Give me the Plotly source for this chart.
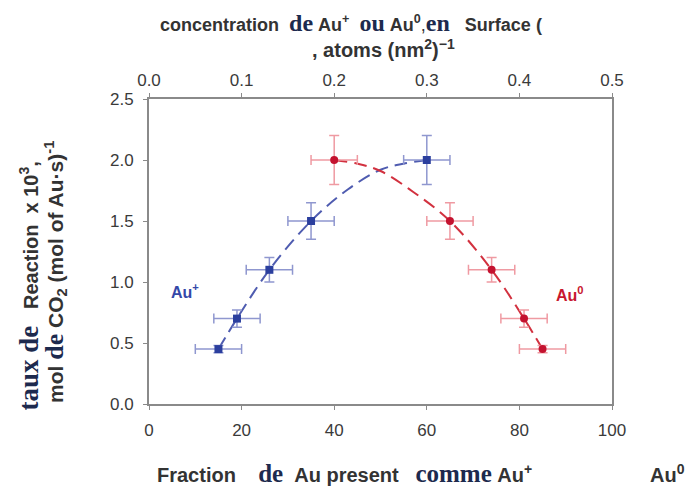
import plotly.graph_objects as go

# ---- data ----
au_plus_x = [15, 19, 26, 35, 60]
au_plus_y = [0.45, 0.70, 1.10, 1.50, 2.00]
au_plus_yerr = [0.03, 0.07, 0.10, 0.15, 0.20]
au_plus_xerr = [5, 5, 5, 5, 5]

au_zero_x = [40, 65, 74, 81, 85]
au_zero_y = [2.00, 1.50, 1.10, 0.70, 0.45]
au_zero_yerr = [0.20, 0.15, 0.10, 0.07, 0.03]
au_zero_xerr = [5, 5, 5, 5, 5]

# dashed guide curves
curve_plus_x = [15, 19, 26, 35, 43, 50, 55, 60]
curve_plus_y = [0.45, 0.70, 1.10, 1.50, 1.76, 1.92, 1.97, 2.00]
curve_zero_x = [40, 45, 50, 57, 65, 74, 81, 85]
curve_zero_y = [2.00, 1.97, 1.91, 1.74, 1.50, 1.10, 0.70, 0.45]

x_ticks = [0, 20, 40, 60, 80, 100]
y_ticks = [0.0, 0.5, 1.0, 1.5, 2.0, 2.5]
top_ticks = [0.0, 0.1, 0.2, 0.3, 0.4, 0.5]

W, H = 687, 488
L, R, T, B = 149, 612, 99, 404

BLUE = "#2b3f9e"
BLUE_LIGHT = "#8f97cf"
BLUE_LINE = "#4f5cb0"
RED = "#c4122f"
RED_LIGHT = "#ef9aa2"
RED_LINE = "#d2313f"
SANS = "Liberation Sans"
N = "&nbsp;"

fig = go.Figure()

fig.add_trace(go.Scatter(x=curve_plus_x, y=curve_plus_y, mode="lines",
                         line=dict(color=BLUE_LINE, width=2, dash="13px,7px", shape="spline"),
                         hoverinfo="skip", showlegend=False))
fig.add_trace(go.Scatter(x=curve_zero_x, y=curve_zero_y, mode="lines",
                         line=dict(color=RED_LINE, width=2, dash="13px,7px", shape="spline"),
                         hoverinfo="skip", showlegend=False))

fig.add_trace(go.Scatter(
    x=au_plus_x, y=au_plus_y, mode="markers",
    marker=dict(symbol="square", size=8, color=BLUE),
    error_y=dict(type="data", array=au_plus_yerr, color=BLUE_LIGHT, thickness=1.5, width=5),
    error_x=dict(type="data", array=au_plus_xerr, color=BLUE_LIGHT, thickness=1.5, width=5),
    showlegend=False))
fig.add_trace(go.Scatter(
    x=au_zero_x, y=au_zero_y, mode="markers",
    marker=dict(symbol="circle", size=8, color=RED),
    error_y=dict(type="data", array=au_zero_yerr, color=RED_LIGHT, thickness=1.5, width=5),
    error_x=dict(type="data", array=au_zero_xerr, color=RED_LIGHT, thickness=1.5, width=5),
    showlegend=False))

# invisible trace for top axis
fig.add_trace(go.Scatter(x=top_ticks, y=[None] * len(top_ticks), xaxis="x2",
                         mode="markers", showlegend=False, hoverinfo="skip"))

axis_common = dict(showline=True, linecolor="#8a8a8a", linewidth=2, ticks="outside",
                   ticklen=4, tickcolor="#8a8a8a", showgrid=False, zeroline=False,
                   tickfont=dict(family=SANS, size=17, color="#3a3a3a"))

fig.update_layout(
    width=W, height=H,
    margin=dict(l=L, r=W - R, t=T, b=H - B),
    paper_bgcolor="white", plot_bgcolor="white",
    xaxis=dict(range=[0, 100], tickvals=x_ticks, ticktext=[str(v) for v in x_ticks],
               ticklabelstandoff=6, **axis_common),
    xaxis2=dict(range=[0, 0.5], tickvals=top_ticks, ticktext=[f"{v:.1f}" for v in top_ticks],
                overlaying="x", side="top", anchor="y", **axis_common),
    yaxis=dict(range=[0, 2.5], tickvals=y_ticks, ticktext=[f"{v:.1f}" for v in y_ticks],
               mirror=True, ticklabelstandoff=6, **axis_common),
)


def px(xp):
    return (xp - L) / (R - L)


def py(yp):
    return (B - yp) / (B - T)


def sp(text, size=18):
    return (f"<span style=\"font-family:'Liberation Serif','Times New Roman',serif;"
            f"font-size:{size}px;color:#1d2a4e;font-weight:bold\">{text}</span>")


anns = [
    # top title
    dict(x=px(351), y=py(23),
         text=(f"<b>concentration</b>{N*2}{sp('de', 24)}{N}<b>Au<sup>+</sup></b>{N*2}{sp('ou', 24)}{N}"
               f"<b>Au<sup>0</sup></b>,{sp('en', 24)}{N*3}<b>Surface (</b>"),
         font=dict(family=SANS, size=18, color="#333333")),
    dict(x=px(383), y=py(48), text=f"<b>, atoms (nm<sup>2</sup>)<sup>−1</sup></b>",
         font=dict(family=SANS, size=20, color="#333333")),
    # y titles
    dict(x=px(28), y=py(413), yanchor="bottom", textangle=-90,
         text=f"{sp('taux de', 27)}{N*3}<b>Reaction{N*2}x 10<sup>3</sup>,</b>",
         font=dict(family=SANS, size=20, color="#333333")),
    dict(x=px(55), y=py(405), yanchor="bottom", textangle=-90,
         text=f"<b>mol</b> {sp('de', 26)} <b>CO<sub>2</sub> (mol of Au·s)<sup>-1</sup></b>",
         font=dict(family=SANS, size=21, color="#333333")),
    # x title
    dict(x=px(155), y=py(473), xanchor="left",
         text=(f"<b>Fraction</b>{N*4}{sp('de', 25)}{N*2}<b>Au present</b>{N*3}"
               f"{sp('comme', 25)}{N}<b>Au<sup>+</sup></b>"),
         font=dict(family=SANS, size=20, color="#333333")),
    dict(x=px(648), y=py(473), xanchor="left", text="<b>Au<sup>0</sup></b>",
         font=dict(family=SANS, size=20, color="#333333")),
]
for a in anns:
    a.setdefault("xanchor", "center")
    a.setdefault("yanchor", "middle")
    fig.add_annotation(xref="paper", yref="paper", showarrow=False, **a)

fig.add_annotation(x=7.8, y=0.93, xref="x", yref="y", showarrow=False,
                   text="<b>Au<sup>+</sup></b>", font=dict(family=SANS, size=16, color="#3548a8"))
fig.add_annotation(x=91, y=0.90, xref="x", yref="y", showarrow=False,
                   text="<b>Au<sup>0</sup></b>", font=dict(family=SANS, size=16, color="#c8182f"))

fig.write_html("out.html")
